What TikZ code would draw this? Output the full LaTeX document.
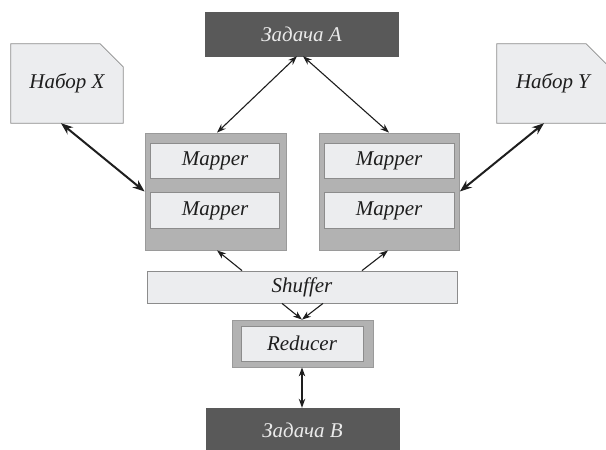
\documentclass[tikz,border=0pt]{standalone}
\usepackage{fontspec}
\setmainfont{Liberation Serif}
\usetikzlibrary{arrows.meta,backgrounds}
\definecolor{darkbox}{HTML}{595959}
\definecolor{lightfill}{HTML}{ECEDEF}
\definecolor{lightdraw}{HTML}{8C8C8C}
\definecolor{midfill}{HTML}{B2B2B2}
\definecolor{middraw}{HTML}{9A9A9A}
\definecolor{darktext}{HTML}{EAEAEA}
\definecolor{inktext}{HTML}{1E1E1E}
\definecolor{arrowcol}{HTML}{1E1E1E}
\begin{document}
\begin{tikzpicture}[x=1pt,y=-1pt,
  txt/.style={font=\fontsize{21}{24}\selectfont\itshape, text=inktext},
  taskbox/.style={txt, text=darktext, fill=darkbox, draw=darkbox, inner sep=0pt, minimum width=193pt, minimum height=44pt},
  lightbox/.style={txt, fill=lightfill, draw=lightdraw, line width=0.8pt, inner sep=0pt},
  outerbox/.style={fill=midfill, draw=middraw, line width=0.8pt, inner sep=0pt},
  dataset/.style={txt, inner sep=0pt, minimum width=112pt, minimum height=79pt},
  thin/.style={draw=arrowcol, line width=1.1pt, {Stealth[length=9pt,width=6.5pt]}-{Stealth[length=9pt,width=6.5pt]}},
  thinone/.style={draw=arrowcol, line width=1.1pt, -{Stealth[length=9pt,width=6.5pt]}},
  thick/.style={draw=arrowcol, line width=2pt, {Stealth[length=12pt,width=9pt]}-{Stealth[length=12pt,width=9pt]}}
]
\useasboundingbox (0,0) rectangle (606,450);
\clip (0,0) rectangle (606,450);

% tasks
\node[taskbox] (A) at (301.5,34) {Задача A};
\node[taskbox] (B) at (302.5,430) {Задача B};

% datasets
\node[dataset] (X) at (67,83.5) {Набор X};
\node[dataset] (Y) at (553,83.5) {Набор Y};
\begin{scope}[on background layer]
  \draw[fill=lightfill, draw=lightdraw, line width=0.8pt]
    (X.south west) -- (X.north west) -- ([xshift=-23pt]X.north east)
    -- ([yshift=-23pt]X.north east) -- (X.south east) -- cycle;
  \draw[fill=lightfill, draw=lightdraw, line width=0.8pt]
    (Y.south west) -- (Y.north west) -- ([xshift=-23pt]Y.north east)
    -- ([yshift=-23pt]Y.north east) -- (Y.south east) -- cycle;
\end{scope}

% mapper groups
\node[outerbox, minimum width=141pt, minimum height=117pt] (LM) at (215.5,191.5) {};
\node[outerbox, minimum width=140pt, minimum height=117pt] (RM) at (389.5,191.5) {};
\node[lightbox, minimum width=129pt, minimum height=35pt] (LM1) at (215,160.5) {Mapper};
\node[lightbox, minimum width=129pt, minimum height=36pt] (LM2) at (215,210.5) {Mapper};
\node[lightbox, minimum width=130pt, minimum height=35pt] (RM1) at (389,160.5) {Mapper};
\node[lightbox, minimum width=130pt, minimum height=36pt] (RM2) at (389,210.5) {Mapper};

% shuffer
\node[lightbox, minimum width=310pt, minimum height=32pt] (S) at (302,287) {Shuffer};

% reducer
\node[outerbox, minimum width=141pt, minimum height=47pt] (R) at (302.5,343.5) {};
\node[lightbox, minimum width=122pt, minimum height=35pt] (R1) at (302,343.5) {Reducer};

% connectors
\draw[thin] ([xshift=-4.5pt]A.south) -- ([xshift=1.5pt]LM.north);
\draw[thin] ([xshift=1.5pt]A.south) -- ([xshift=-0.5pt]RM.north);
\draw[thick] ([xshift=-6pt]X.south) -- (LM.west);
\draw[thick] ([xshift=-9pt]Y.south) -- (RM.east);
\draw[thinone] ([xshift=-60pt]S.north) -- ([xshift=1.5pt]LM.south);
\draw[thinone] ([xshift=60pt]S.north) -- ([xshift=-1.5pt]RM.south);
\draw[thinone] ([xshift=-20pt]S.south) -- ([xshift=-0.5pt]R.north);
\draw[thinone] ([xshift=21pt]S.south) -- ([xshift=-0.5pt]R.north);
\draw[thin] ([xshift=-0.5pt]R.south) -- ([xshift=-0.5pt]B.north);
\end{tikzpicture}
\end{document}
